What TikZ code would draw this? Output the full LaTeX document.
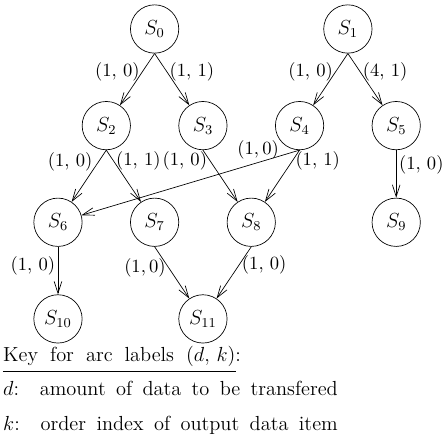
\documentclass[tikz,border=0pt]{standalone}
\usepackage{fontspec}
\usetikzlibrary{arrows.meta,positioning}

\begin{document}
\begin{tikzpicture}[
    node distance=2cm and 1cm, on grid,
    >={Straight Barb[length=7pt,width=4.5pt]},
    state/.style={draw=black, circle, minimum size=1cm, inner sep=0pt, thin, font=\large},
    flow/.style={->, thin},
    lbl/.style={inner sep=1.5pt, font=\fontsize{11}{13}\selectfont},
    keyline/.style={inner sep=0pt, font=\large\addfontfeatures{LetterSpace=2}}
]
\useasboundingbox (-3.20,0.60) rectangle (6.01,-8.49);

% task graph
\node[state] (S0) {$S_0$};
\node[state, right=4cm of S0] (S1) {$S_1$};
\node[state, below left=of S0] (S2) {$S_2$};
\node[state, below right=of S0] (S3) {$S_3$};
\node[state, below left=of S1] (S4) {$S_4$};
\node[state, below right=of S1] (S5) {$S_5$};
\node[state, below left=of S2] (S6) {$S_6$};
\node[state, below right=of S2] (S7) {$S_7$};
\node[state, below right=of S3] (S8) {$S_8$};
\node[state, below=of S5] (S9) {$S_9$};
\node[state, below=of S6] (S10) {$S_{10}$};
\node[state, below right=of S7] (S11) {$S_{11}$};

\draw[flow] (S0.south) -- node[lbl, left, pos=0.35] {$(1,\,0)$} (S2);
\draw[flow] (S0.south) -- node[lbl, right, pos=0.35] {$(1,\,1)$} (S3);
\draw[flow] (S1.south) -- node[lbl, left, pos=0.35] {$(1,\,0)$} (S4);
\draw[flow] (S1.south) -- node[lbl, right, pos=0.35] {$(4,\,1)$} (S5);
\draw[flow] (S2.south) -- node[lbl, left, pos=0.22, xshift=-2pt] {$(1,\,0)$} (S6);
\draw[flow] (S2.south) -- node[lbl, right, pos=0.2] {$(1,\,1)$} (S7);
\draw[flow] (S3.south) -- node[lbl, left, pos=0.2] {$(1,\,0)$} (S8);
\draw[flow] (S4.south) -- node[lbl, above, pos=0.19] {$(1,0)$} (S6);
\draw[flow] (S4.south) -- node[lbl, right, pos=0.2] {$(1,\,1)$} (S8);
\draw[flow] (S5) -- node[lbl, right, pos=0.3] {$(1,\,0)$} (S9);
\draw[flow] (S6) -- node[lbl, left, pos=0.4] {$(1,\,0)$} (S10);
\draw[flow] (S7.south) -- node[lbl, left, pos=0.4] {$(1,0)$} (S11);
\draw[flow] (S8.south) -- node[lbl, right, pos=0.35] {$(1,\,0)$} (S11);

% key
\node[keyline, anchor=base west, font=\large] (key) at (-3.14,-6.89)
  {\makebox[140pt][s]{Key for arc labels $(d,\,k)$:}};
\draw[line width=0.7pt] ([yshift=-2.4pt]key.south west) -- ([yshift=-2.4pt,xshift=-3pt]key.south east);
\node[keyline, below=0.69cm of key.base west, anchor=base west] (keyd)
  {\makebox[197pt][s]{$d$:\ \ amount of data to be transfered}};
\node[keyline, below=0.72cm of keyd.base west, anchor=base west] (keyk)
  {\makebox[197pt][s]{$k$:\ \ order index of output data item}};

\end{tikzpicture}
\end{document}
